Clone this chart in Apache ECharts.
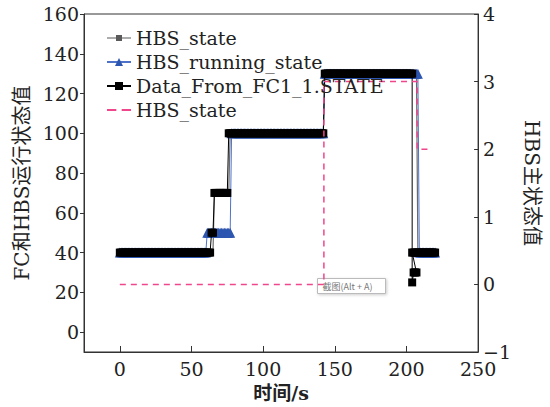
<!DOCTYPE html>
<html>
<head>
<meta charset="utf-8">
<script src="https://cdn.jsdelivr.net/npm/echarts@6/dist/echarts.min.js"></script>
<style>
  html, body { margin: 0; padding: 0; background: #fff; }
  #chart { width: 550px; height: 407px; }
</style>
</head>
<body>
<div id="chart"></div>
<script>
// levels: [first second, last second, value]
const hbsStateRuns = [[0, 65, 40], [66, 76, 70], [77, 142, 100], [143, 207, 130], [208, 220, 40]]
const hbsRunningRuns = [[0, 60, 40], [61, 77, 50], [78, 142, 100], [143, 208, 130], [209, 220, 40]]
const fcStateRuns = [[0, 63, 40], [64, 65, 50], [66, 75, 70], [76, 142, 100], [143, 204, 130],
  [204, 204, 25], [205, 207, 30], [204, 220, 40]]
// main HBS state on the right axis: [time, state]
const hbsMainState = [[0, 0], [142.4, 0], [142.4, 3], [207.5, 3], [207.5, 2], [216, 2]]

const xTicks = [0, 50, 100, 150, 200, 250]
const leftTicks = [0, 20, 40, 60, 80, 100, 120, 140, 160]

const seriesNames = ['HBS_state', 'HBS_running_state', 'Data_From_FC1_1.STATE', 'HBS_state ']

function expand(runs) {
  const pts = []
  runs.forEach(([a, b, v]) => {
    for (let t = a; t <= b; t++) pts.push([t, v])
  })
  return pts
}

const font = 'DejaVu Serif, Noto Sans CJK SC, serif'
const txt = '#222'
const axisCol = '#333'
const pink = '#f0468c'
const gray = '#5a5a5a'

const chart = echarts.init(document.getElementById('chart'), null, { renderer: 'svg' })
chart.setOption({
  animation: false,
  grid: {
    left: 84, right: 48, top: 14, bottom: 54,
    show: true, borderColor: axisCol, borderWidth: 1
  },
  legend: {
    orient: 'vertical',
    left: 101, top: 23, z: 10,
    itemWidth: 24, itemHeight: 10, itemGap: 4,
    textStyle: { fontFamily: font, fontSize: 19, color: txt, lineHeight: 20 },
    data: [{
      name: seriesNames[0],
      icon: 'path://M0,4.4h24v1.2h-24zM9,2h6v6h-6z',
      itemStyle: { color: gray }
    }, seriesNames[1], seriesNames[2], {
      name: seriesNames[3],
      icon: 'path://M0,4.2h7v1.6h-7zM11,4.2h7v1.6h-7z',
      itemStyle: { color: pink }
    }]
  },
  xAxis: {
    type: 'value', min: -25, max: 250,
    name: '时间/s', nameLocation: 'middle', nameGap: 31,
    nameTextStyle: { fontFamily: font, fontSize: 19, color: txt, fontWeight: 'bold' },
    axisLine: { onZero: false, lineStyle: { color: axisCol } },
    axisTick: { inside: true, length: 6, customValues: xTicks, lineStyle: { color: axisCol } },
    axisLabel: { customValues: xTicks, margin: 7, fontFamily: font, fontSize: 19, color: txt },
    splitLine: { show: false }
  },
  yAxis: [{
    type: 'value', min: -10, max: 160,
    name: 'FC和HBS运行状态值', nameLocation: 'middle', nameGap: 48, nameRotate: 90,
    nameTextStyle: { fontFamily: font, fontSize: 20, color: txt },
    axisLine: { show: true, onZero: false, lineStyle: { color: axisCol } },
    axisTick: { length: 4, customValues: leftTicks, lineStyle: { color: axisCol } },
    axisLabel: { customValues: leftTicks, margin: 5, fontFamily: font, fontSize: 19, color: txt },
    splitLine: { show: false }
  }, {
    type: 'value', min: -1, max: 4, interval: 1, position: 'right',
    name: 'HBS主状态值', nameLocation: 'middle', nameGap: 26, nameRotate: -90,
    nameTextStyle: { fontFamily: font, fontSize: 20, color: txt },
    axisLine: { show: true, onZero: false, lineStyle: { color: axisCol } },
    axisTick: { inside: true, length: 4, lineStyle: { color: axisCol } },
    axisLabel: {
      margin: 5, fontFamily: font, fontSize: 19, color: txt,
      formatter: v => String(v).replace('-', '\u2212')
    },
    splitLine: { show: false }
  }],
  series: [{
    name: seriesNames[0],
    type: 'line', z: 2,
    data: expand(hbsStateRuns),
    showSymbol: false,
    symbol: 'rect', symbolSize: 5,
    itemStyle: { color: gray },
    lineStyle: { color: '#6a6a6a', width: 1.2 }
  }, {
    name: seriesNames[1],
    type: 'line', z: 3,
    data: expand(hbsRunningRuns),
    showAllSymbol: true,
    symbol: 'triangle', symbolSize: [10, 10],
    itemStyle: { color: '#2c56b0', borderWidth: 0 },
    lineStyle: { color: '#4f72c9', width: 1 }
  }, {
    name: seriesNames[2],
    type: 'line', z: 4,
    data: expand(fcStateRuns),
    showAllSymbol: true,
    symbol: 'rect', symbolSize: [8, 8],
    itemStyle: { color: '#000', borderWidth: 0 },
    lineStyle: { color: '#000', width: 1 }
  }, {
    name: seriesNames[3],
    type: 'line', z: 5,
    yAxisIndex: 1,
    data: hbsMainState,
    symbol: 'none',
    itemStyle: { color: pink },
    lineStyle: { color: pink, width: 1.5, type: [6, 5] }
  }],
  graphic: [{
    type: 'group', left: 317, top: 278, z: 20,
    children: [{
      type: 'rect', shape: { x: 0, y: 0, width: 68, height: 15 },
      style: { fill: '#fff', stroke: '#bbb', lineWidth: 1, shadowBlur: 3, shadowColor: 'rgba(0,0,0,0.2)', shadowOffsetX: 1, shadowOffsetY: 1 }
    }, {
      type: 'text', x: 5, y: 3,
      style: { text: '截图(Alt + A)', font: '9px Noto Sans CJK SC', fill: '#777' }
    }]
  }]
})
</script>
</body>
</html>
